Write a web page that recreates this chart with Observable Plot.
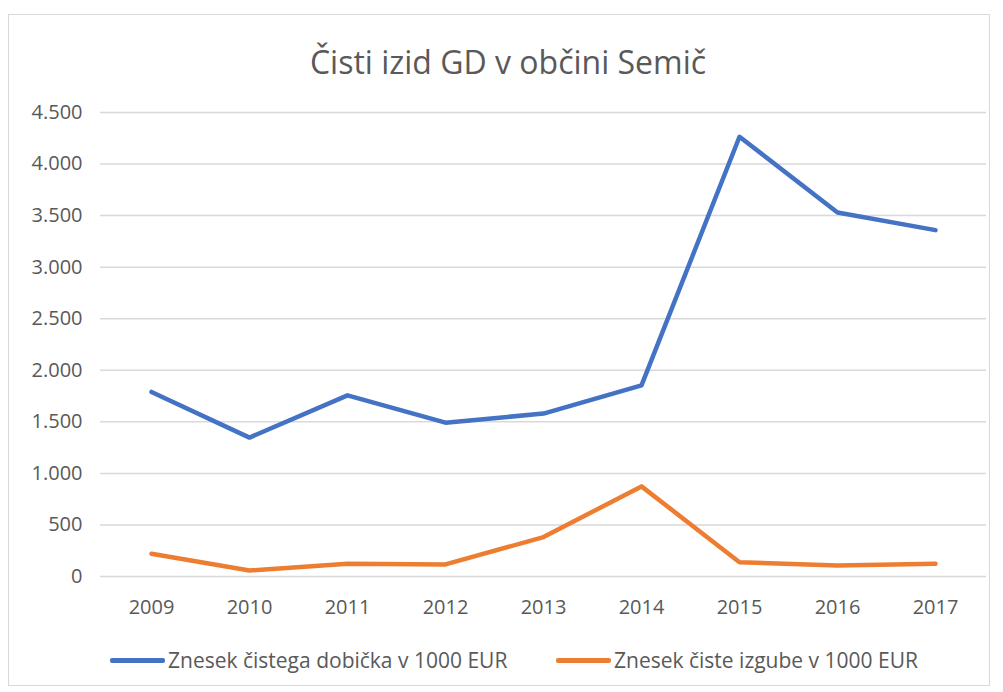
<!DOCTYPE html>
<html>
<head>
<meta charset="utf-8">
<script src="https://cdn.jsdelivr.net/npm/d3@7"></script>
<script src="https://cdn.jsdelivr.net/npm/@observablehq/plot@0.6"></script>
<style>
  body { margin: 0; background: #fff; font-family: "Open Sans", sans-serif; color: #595959; }
  #frame { position: absolute; left: 8px; top: 14px; width: 982px; height: 672px; border: 1px solid #d9d9d9; box-sizing: border-box; }
  #title { position: absolute; left: 0; width: 1016px; top: 38px; text-align: center; font-size: 32px; line-height: 48px; color: #595959; }
  #chart { position: absolute; left: 0; top: 90px; }
  .leg { position: absolute; top: 648px; height: 24px; display: flex; align-items: center; font-size: 21px; color: #595959; white-space: nowrap; }
  .sw { width: 55px; height: 5px; border-radius: 2px; margin-right: 3px; }
</style>
</head>
<body>
<div id="frame"></div>
<div id="title">Čisti izid GD v občini Semič</div>
<div id="chart"></div>
<div class="leg" style="left:110px"><div class="sw" style="background:#4472C4"></div><span>Znesek čistega dobička v 1000 EUR</span></div>
<div class="leg" style="left:556px"><div class="sw" style="background:#ED7D31"></div><span>Znesek čiste izgube v 1000 EUR</span></div>
<script>
const years = ["2009","2010","2011","2012","2013","2014","2015","2016","2017"];
const dobicek = [1790, 1347, 1757, 1492, 1580, 1854, 4265, 3531, 3359];
const izguba = [220, 58, 123, 117, 382, 874, 139, 107, 123];
const seriesNames = ["Znesek čistega dobička v 1000 EUR", "Znesek čiste izgube v 1000 EUR"];
const seriesColors = ["#4472C4", "#ED7D31"];
const yTicks = [0, 500, 1000, 1500, 2000, 2500, 3000, 3500, 4000, 4500];

const data = [];
years.forEach((y, i) => {
  data.push({year: y, value: dobicek[i], series: seriesNames[0]});
  data.push({year: y, value: izguba[i], series: seriesNames[1]});
});

const loc = d3.formatLocale({decimal: ",", thousands: ".", grouping: [3], currency: ["", ""]});
const fmt = loc.format(",");

const chart = Plot.plot({
  width: 1003,
  height: 540,
  marginLeft: 100,
  marginRight: 17,
  marginTop: 22,
  marginBottom: 54,
  style: {fontFamily: "Open Sans, sans-serif", fontSize: "20px", color: "#595959", background: "transparent"},
  x: {type: "point", domain: years, padding: 0.5, label: null},
  y: {domain: [0, 4500], label: null},
  color: {domain: seriesNames, range: seriesColors},
  marks: [
    Plot.ruleY(yTicks, {stroke: "#d9d9d9", strokeWidth: 1.5}),
    Plot.axisY({ticks: yTicks, tickSize: 0, tickPadding: 18, tickFormat: fmt, label: null, fill: "#595959"}),
    Plot.axisX({tickSize: 0, tickPadding: 23, label: null, fill: "#595959"}),
    Plot.line(data, {x: "year", y: "value", stroke: "series", z: "series", strokeWidth: 4.5, strokeLinecap: "round", strokeLinejoin: "round"})
  ]
});
document.getElementById("chart").appendChild(chart);
</script>
</body>
</html>
